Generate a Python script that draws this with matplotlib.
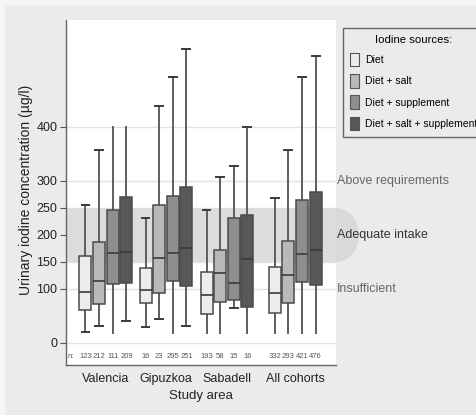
import matplotlib
matplotlib.use("Agg")
import matplotlib.pyplot as plt
from matplotlib.patches import Ellipse, Patch, Rectangle
from matplotlib.transforms import blended_transform_factory

plt.rcParams['font.family'] = ['Liberation Sans', 'DejaVu Sans']

# ---------------- data ----------------
groups = ["Valencia", "Gipuzkoa", "Sabadell", "All cohorts"]
sources = ["Diet", "Diet + salt", "Diet + supplement", "Diet + salt + supplement"]
n_counts = [123, 212, 111, 209, 16, 23, 295, 251, 193, 58, 15, 16, 332, 293, 421, 476]
whisk_lo = [20, 31, 19, 41, 30, 44, 19, 31, 19, 19, 65, 19, 19, 19, 19, 19]
q1 = [60, 72, 109, 111, 73, 92, 115, 105, 54, 75, 80, 67, 56, 73, 112, 107]
median = [94, 115, 166, 168, 98, 158, 166, 175, 88, 129, 110, 155, 92, 125, 165, 172]
q3 = [161, 186, 246, 270, 138, 255, 272, 288, 132, 172, 232, 237, 140, 188, 265, 280]
whisk_hi = [256, 357, 400, 400, 232, 439, 492, 544, 246, 308, 328, 400, 268, 357, 493, 531]
yticks = [0, 100, 150, 200, 250, 300, 400]
zones = ["Above requirements", "Adequate intake", "Insufficient"]
zone_y = [300, 200, 100]
band = (150, 250)

# ---------------- style / layout ----------------
fills = ["#ededed", "#b9b9b9", "#8e8e8e", "#585858"]
group_start = [0, 4.4, 8.87, 13.87]
hide_lo_cap = {2, 6, 8, 9, 11, 12, 13, 14, 15}
hide_hi_cap = {2, 3}

W, H = 477, 415
fig = plt.figure(figsize=(W / 100, H / 100), dpi=100)
fig.patch.set_facecolor("#f5f5f5")
fig.patches.append(Rectangle((5 / W, 0), 1, 1 - 5 / H, transform=fig.transFigure,
                             facecolor="#ebebeb", edgecolor="none", zorder=-2))
ax = fig.add_axes([65.7 / W, 1 - 365 / H, (336 - 65.7) / W, (365 - 20) / H])
ax.set_facecolor("white")

positions = []
for g in range(len(groups)):
    for s in range(len(sources)):
        positions.append(group_start[g] + s)

stats = []
for i in range(len(positions)):
    stats.append(dict(whislo=whisk_lo[i], q1=q1[i], med=median[i], q3=q3[i],
                      whishi=whisk_hi[i], fliers=[]))

bp = ax.bxp(stats, positions=positions, widths=0.88, capwidths=0.58,
            patch_artist=True, showfliers=False,
            boxprops=dict(edgecolor="#4a4a4a", linewidth=1.1),
            medianprops=dict(color="#3a3a3a", linewidth=1.2),
            whiskerprops=dict(color="#5e5e5e", linewidth=1.4),
            capprops=dict(color="#3a3a3a", linewidth=1.4))
for i, b in enumerate(bp["boxes"]):
    b.set_facecolor(fills[i % 4])
    b.set_zorder(3)
for i in range(len(positions)):
    if i in hide_lo_cap:
        bp["caps"][2 * i].set_visible(False)
    if i in hide_hi_cap:
        bp["caps"][2 * i + 1].set_visible(False)
for m in bp["medians"]:
    m.set_zorder(4)

# band and grid
ax.axhspan(band[0], band[1], color="#dcdcdc", zorder=1, lw=0)
for t in yticks:
    ax.axhline(t, color="#e2e2e2", lw=1.0, zorder=0.5)
fig.patches.append(Ellipse((336 / W, 1 - 235 / H), 46 / W, 54 / H,
                           transform=fig.transFigure, facecolor="#d9d9d9",
                           edgecolor="none", zorder=-1))

ax.set_xlim(-1.45, 18.36)
ax.set_ylim(-41, 598)
ax.set_yticks(yticks)
ax.set_yticklabels([str(t) for t in yticks], fontsize=9, color="#222")
ax.tick_params(axis="y", direction="out", length=4, color="#555", pad=2)
centers = [s + 1.5 for s in group_start]
ax.set_xticks(centers)
ax.set_xticklabels(groups, fontsize=9, color="#222")
ax.tick_params(axis="x", length=0, pad=6)
ax.set_xlabel("Study area", fontsize=9.5, color="#222", labelpad=3)
ax.set_ylabel("Urinary iodine concentration (µg/l)", fontsize=10, color="#222")
ax.yaxis.set_label_coords(-0.12, 0.507)
for sp in ["top", "right"]:
    ax.spines[sp].set_visible(False)
for sp in ["left", "bottom"]:
    ax.spines[sp].set_color("#666")
    ax.spines[sp].set_linewidth(1.0)

# n labels
ax.text(-1.35, -26, "n:", fontsize=5.5, color="#555", ha="left", va="center")
for p, n in zip(positions, n_counts):
    ax.text(p, -26, str(n), fontsize=5.5, color="#555", ha="center", va="center")

# zone labels
tr = blended_transform_factory(ax.transAxes, ax.transData)
zcol = ["#666", "#333", "#666"]
for z, y, c in zip(zones, zone_y, zcol):
    ax.text(1.003, y, z, transform=tr, fontsize=9, color=c, ha="left",
            va="center", clip_on=False)

# legend
handles = [Patch(facecolor=f, edgecolor="#555", linewidth=0.8) for f in fills]
leg = fig.legend(handles, sources, title="Iodine sources:", loc="upper left",
                 bbox_to_anchor=(343 / W, 1 - 28 / H), frameon=True, fancybox=False,
                 fontsize=7.5, title_fontsize=8.2, handlelength=0.85, handleheight=1.6,
                 handletextpad=0.6, labelspacing=0.75, borderpad=0.7, borderaxespad=0)
leg.get_frame().set_edgecolor("#444")
leg.get_frame().set_facecolor("#ebebeb")
leg.get_frame().set_linewidth(1.0)

fig.savefig("out.png", dpi=100, facecolor=fig.get_facecolor())
